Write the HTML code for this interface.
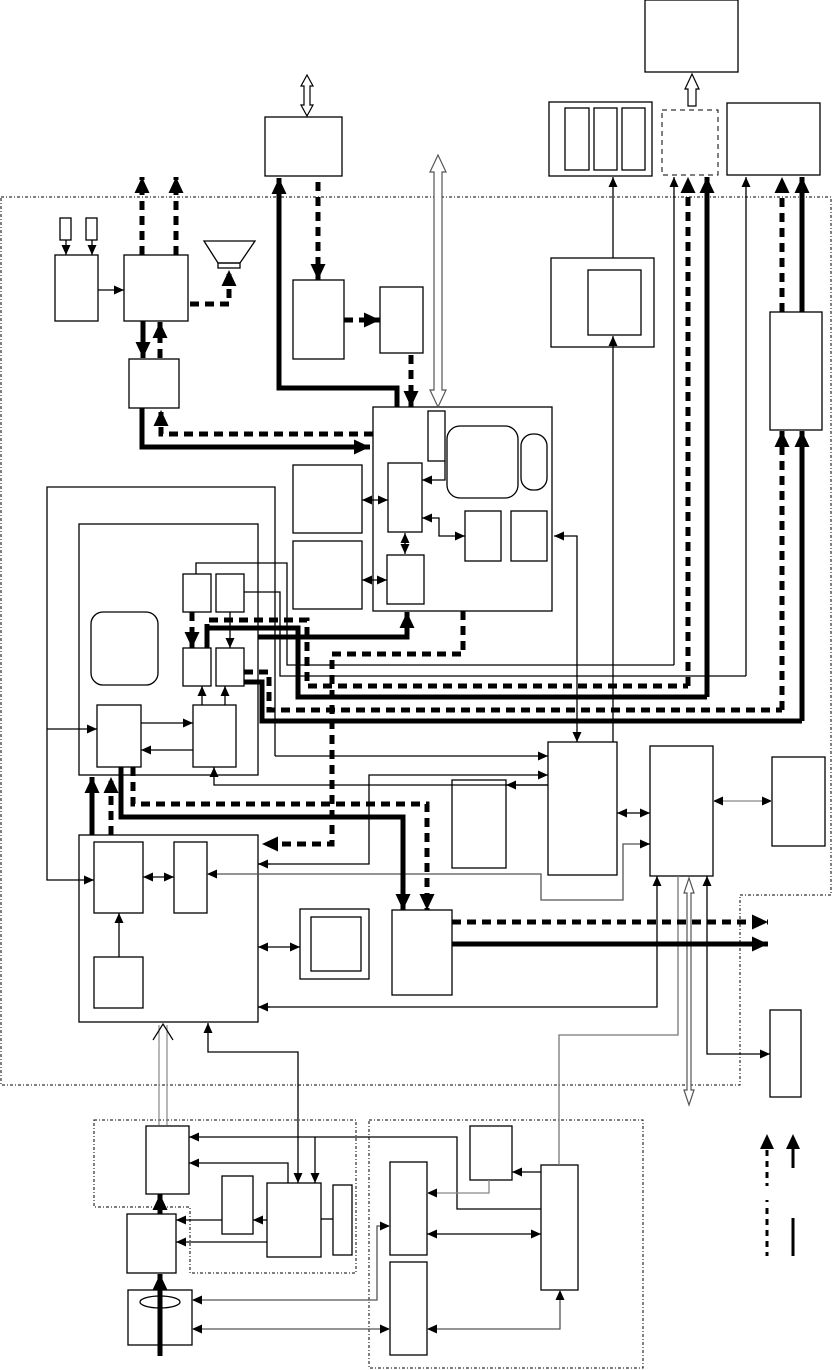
<!DOCTYPE html>
<html><head><meta charset="utf-8"><style>
html,body{margin:0;padding:0;background:#fff;}
svg{display:block;}
</style></head><body>
<svg width="833" height="1370" viewBox="0 0 833 1370" xmlns="http://www.w3.org/2000/svg">
<defs>
<marker id="T" markerUnits="userSpaceOnUse" markerWidth="18" markerHeight="16" refX="16" refY="7.5" orient="auto-start-reverse"><path d="M0,0 L16,7.5 L0,15 z" fill="#000"/></marker>
<marker id="t" markerUnits="userSpaceOnUse" markerWidth="12" markerHeight="10" refX="10" refY="4.5" orient="auto-start-reverse"><path d="M0,0 L10,4.5 L0,9 z" fill="#000"/></marker>
</defs>
<g fill="none" stroke="#000">
<path d="M1,197 H831 V895 H740 V1085 H1 Z" stroke-width="1" stroke-dasharray="3,2,1,2"/>
<path d="M94,1120 H356 V1273 H190 V1207 H94 Z" stroke-width="1" stroke-dasharray="3,2,1,2"/>
<rect x="369" y="1120" width="274" height="248" stroke-width="1" stroke-dasharray="3,2,1,2"/>
<rect x="662" y="110" width="56" height="65" stroke-width="1" stroke-dasharray="5,4"/>

<g stroke-width="1.3">
<rect x="645" y="0" width="93" height="72"/>
<rect x="549" y="102" width="103" height="74"/>
<rect x="565" y="108" width="24" height="62"/><rect x="594" y="108" width="23" height="62"/><rect x="622" y="108" width="23" height="62"/>
<rect x="727" y="103" width="93" height="72"/>
<rect x="265" y="117" width="77" height="59"/>
<rect x="60" y="218" width="11" height="22"/><rect x="86" y="218" width="11" height="22"/>
<rect x="55" y="255" width="43" height="66"/>
<rect x="124" y="255" width="64" height="66"/>
<path d="M204,241 H255 L240,263 H218 Z"/><rect x="218" y="263" width="22" height="5"/>
<rect x="129" y="359" width="50" height="49"/>
<rect x="293" y="280" width="51" height="79"/>
<rect x="380" y="287" width="43" height="66"/>
<rect x="373" y="407" width="179" height="204"/>
<rect x="428" y="411" width="17" height="50"/>
<rect x="447" y="426" width="71" height="72" rx="13"/>
<rect x="521" y="434" width="26" height="56" rx="12"/>
<rect x="388" y="463" width="34" height="69"/>
<rect x="387" y="555" width="37" height="49"/>
<rect x="465" y="511" width="36" height="50"/><rect x="511" y="511" width="36" height="50"/>
<rect x="293" y="465" width="69" height="68"/><rect x="293" y="541" width="69" height="68"/>
<rect x="551" y="258" width="103" height="89"/><rect x="588" y="270" width="53" height="65"/>
<rect x="770" y="312" width="52" height="118"/>
<rect x="79" y="524" width="179" height="251"/>
<rect x="91" y="612" width="67" height="73" rx="12"/>
<rect x="183" y="574" width="28" height="38"/><rect x="216" y="574" width="28" height="38"/>
<rect x="183" y="648" width="28" height="38"/><rect x="216" y="648" width="28" height="38"/>
<rect x="97" y="705" width="44" height="62"/><rect x="193" y="705" width="43" height="62"/>
<rect x="79" y="835" width="179" height="187"/>
<rect x="94" y="842" width="49" height="71"/><rect x="174" y="842" width="33" height="71"/>
<rect x="94" y="957" width="49" height="51"/>
<rect x="300" y="909" width="69" height="70"/><rect x="311" y="917" width="50" height="54"/>
<rect x="392" y="910" width="60" height="85"/>
<rect x="452" y="780" width="54" height="88"/>
<rect x="548" y="742" width="69" height="133"/>
<rect x="650" y="746" width="63" height="130"/>
<rect x="772" y="757" width="53" height="89"/>
<rect x="770" y="1010" width="31" height="87"/>
<rect x="146" y="1126" width="43" height="68"/>
<rect x="127" y="1214" width="49" height="59"/>
<rect x="128" y="1290" width="64" height="55"/>
<ellipse cx="160" cy="1302" rx="20" ry="6"/>
<rect x="222" y="1176" width="31" height="58"/>
<rect x="267" y="1183" width="54" height="74"/>
<rect x="333" y="1185" width="19" height="70"/>
<rect x="470" y="1126" width="42" height="54"/>
<rect x="390" y="1162" width="37" height="93"/>
<rect x="390" y="1262" width="37" height="93"/>
<rect x="541" y="1165" width="37" height="125"/>
</g>

<g stroke-width="1.3">
<path d="M66,240 V255" marker-end="url(#t)"/><path d="M92,240 V255" marker-end="url(#t)"/>
<path d="M98,290 H124" marker-end="url(#t)"/>
<path d="M613,258 V177" marker-end="url(#t)"/>
<path d="M613,742 V336" marker-end="url(#t)"/>
<path d="M674,665 V177" marker-end="url(#t)"/>
<path d="M746,676 V177" marker-end="url(#t)"/>
<path d="M445,461 V480 H422" marker-end="url(#t)"/>
<path d="M422,518 H439 V536 H465" marker-start="url(#t)" marker-end="url(#t)"/>
<path d="M405,533 V554" marker-start="url(#t)" marker-end="url(#t)"/>
<path d="M362,500 H388" marker-start="url(#t)" marker-end="url(#t)"/>
<path d="M362,580 H387" marker-start="url(#t)" marker-end="url(#t)"/>
<path d="M554,536 H577 V742" marker-start="url(#t)" marker-end="url(#t)"/>
<path d="M196,574 V563 H287 V665 H674"/>
<path d="M244,592 H280 V676 H746"/>
<path d="M230,612 V648" marker-end="url(#t)"/>
<path d="M275,756 V487 H47 V880 H94" marker-end="url(#t)"/>
<path d="M47,729 H97" marker-end="url(#t)"/>
<path d="M275,756 H548" marker-end="url(#t)"/>
<path d="M141,723 H193" marker-end="url(#t)"/>
<path d="M193,750 H141" marker-end="url(#t)"/>
<path d="M202,705 V686" marker-end="url(#t)"/><path d="M225,705 V686" marker-end="url(#t)"/>
<path d="M548,785 H214 V767" marker-end="url(#t)"/>
<path d="M548,785 H506" marker-end="url(#t)"/>
<path d="M258,864 H369 V775 H548" marker-end="url(#t)"/>
<path d="M258,864 H270" marker-start="url(#t)"/>
<path d="M143,877 H174" marker-start="url(#t)" marker-end="url(#t)"/>
<path d="M119,957 V913" marker-end="url(#t)"/>
<path d="M650,844 H623 V900 H541 V874 H207" marker-end="url(#t)" stroke="#555"/>
<path d="M650,844 H640" marker-start="url(#t)"/>
<path d="M617,813 H650" marker-start="url(#t)" marker-end="url(#t)"/>
<path d="M713,801 H772" marker-start="url(#t)" marker-end="url(#t)" stroke="#888"/>
<path d="M258,947 H300" marker-start="url(#t)" marker-end="url(#t)"/>
<path d="M258,1007 H657 V876" marker-end="url(#t)"/>
<path d="M258,1007 H270" marker-start="url(#t)"/>
<path d="M678,876 V1035 H559 V1165" stroke="#777"/>
<path d="M707,876 V1054 H770" marker-start="url(#t)" marker-end="url(#t)"/>
<path d="M208,1023 V1052 H298 V1183" marker-start="url(#t)" marker-end="url(#t)"/>
<path d="M288,1183 V1163 H189" marker-end="url(#t)"/>
<path d="M541,1209 H457 V1137 H189" marker-end="url(#t)"/>
<path d="M315,1137 V1183" marker-end="url(#t)"/>
<path d="M267,1220 H253" marker-end="url(#t)"/>
<path d="M222,1220 H176" marker-end="url(#t)"/>
<path d="M267,1242 H176" marker-end="url(#t)"/>
<path d="M321,1219 H333"/>
<path d="M541,1172 H512" marker-end="url(#t)"/>
<path d="M489,1180 V1193 H427" marker-end="url(#t)" stroke="#888"/>
<path d="M427,1234 H541" marker-start="url(#t)" marker-end="url(#t)"/>
<path d="M390,1226 H377 V1300 H192" marker-start="url(#t)" marker-end="url(#t)" stroke="#555"/>
<path d="M192,1329 H390" marker-start="url(#t)" marker-end="url(#t)" stroke="#555"/>
<path d="M427,1329 H560 V1290" marker-start="url(#t)" marker-end="url(#t)" stroke="#555"/>
</g>

<g stroke-width="1.2" fill="#fff">
<path d="M307,75 L313,86 H310 V105 H313 L307,116 L301,105 H304 V86 H301 Z"/>
<path d="M438,155 L446,172 H442 V390 H446 L438,407 L430,390 H434 V172 H430 Z" stroke="#555"/>
<path d="M692,74 L699,89 H696 V106 H688 V89 H685 Z"/>
<path d="M689,878 L694,893 H691 V1090 H694 L689,1105 L684,1090 H687 V893 H684 Z" stroke="#555"/>
</g>
<g stroke-width="1.2">
<path d="M159,1125 V1025 M167,1125 V1025" stroke="#888"/>
<path d="M153,1040 L163,1024 L173,1040"/>
</g>

<g stroke-width="5">
<path d="M279,178 V388 H397 V407" marker-start="url(#T)"/>
<path d="M143,321 V358" marker-end="url(#T)"/>
<path d="M142,408 V447 H370" marker-end="url(#T)"/>
<path d="M707,697 V177" marker-end="url(#T)"/>
<path d="M802,312 V177" marker-end="url(#T)"/>
<path d="M802,721 V431" marker-end="url(#T)"/>
<path d="M207,648 V628 H298 V697 H707"/>
<path d="M258,637 H407 V612" marker-end="url(#T)"/>
<path d="M244,682 H262 V721 H802"/>
<path d="M121,767 V817 H403 V910" marker-end="url(#T)"/>
<path d="M92,835 V777" marker-end="url(#T)"/>
<path d="M452,944 H768" marker-end="url(#T)"/>
<path d="M160,1214 V1194" marker-end="url(#T)"/>
<path d="M160,1356 V1274" marker-end="url(#T)"/>
</g>
<g stroke-width="5" stroke-dasharray="9,6">
<path d="M142,255 V177" marker-end="url(#T)"/>
<path d="M176,255 V177" marker-end="url(#T)"/>
<path d="M190,304 H229 V270" marker-end="url(#T)"/>
<path d="M160,358 V322" marker-end="url(#T)"/>
<path d="M373,434 H161 V410" marker-end="url(#T)"/>
<path d="M318,182 V280" marker-end="url(#T)"/>
<path d="M344,320 H380" marker-end="url(#T)"/>
<path d="M411,355 V407" marker-end="url(#T)"/>
<path d="M688,686 V177" marker-end="url(#T)"/>
<path d="M782,312 V177" marker-end="url(#T)"/>
<path d="M782,710 V431" marker-end="url(#T)"/>
<path d="M192,612 V648" marker-end="url(#T)"/>
<path d="M207,648 V620 H307 V686 H688"/>
<path d="M244,672 H269 V710 H782"/>
<path d="M463,611 V654 H332 V844 H262" marker-end="url(#T)"/>
<path d="M133,767 V804 H427 V910" marker-end="url(#T)"/>
<path d="M111,835 V777" marker-end="url(#T)"/>
<path d="M452,922 H768" marker-end="url(#T)"/>
</g>
<!-- legend -->
<path d="M760,1149 L767,1134 L774,1149 Z M786,1149 L793,1134 L800,1149 Z" fill="#000" stroke="none"/>
<g stroke-width="3">
<path d="M793,1149 V1168 M793,1218 V1256"/>
<path d="M767,1150 V1186 M767,1208 V1256" stroke-dasharray="6,5"/>
<path d="M767,1200 V1202"/>
</g>
</g>
</svg>
</body></html>
